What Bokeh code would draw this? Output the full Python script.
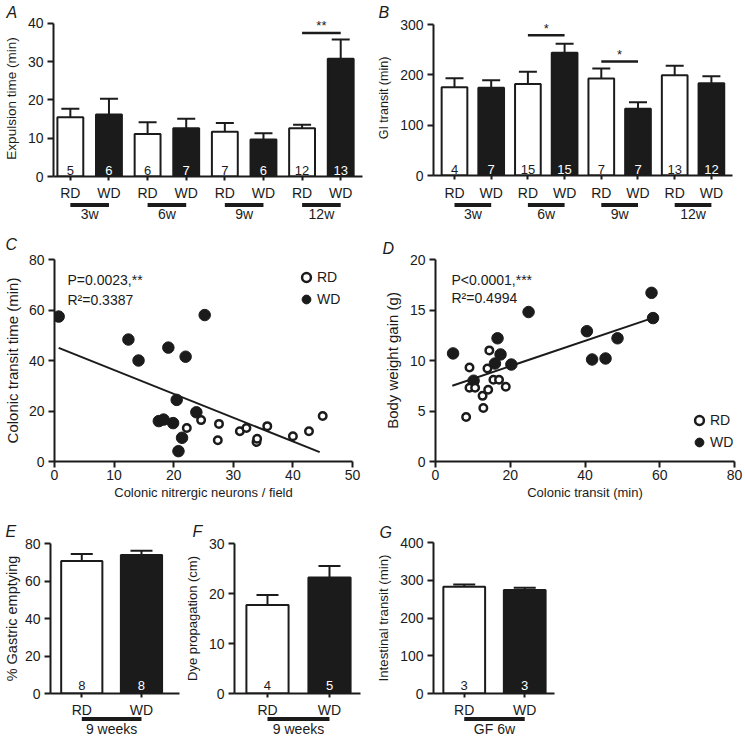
from bokeh.plotting import figure
from bokeh.layouts import row, column
from bokeh.models import (ColumnDataSource, FixedTicker, Whisker, TeeHead, Label,
                          Legend, LegendItem, Range1d)
from bokeh.core.properties import value
from bokeh.embed import file_html
from bokeh.resources import INLINE

FONT = "Liberation Sans"
INK = "#1b1b1b"

# ---------------- data ----------------
# A: expulsion time (min), mean and SEM
a_diet = ["RD", "WD", "RD", "WD", "RD", "WD", "RD", "WD"]
a_mean = [15.5, 16.2, 11.1, 12.6, 11.7, 9.7, 12.6, 30.8]
a_sem = [2.2, 4.1, 3.1, 2.5, 2.3, 1.6, 0.9, 5.0]
a_n = [5, 6, 6, 7, 7, 6, 12, 13]
a_groups = ["3w", "6w", "9w", "12w"]
a_yticks = [0, 10, 20, 30, 40]
a_sig_from = [6]
a_sig_to = [7]
a_sig_y = [37.5]
a_sig_text = ["**"]

# B: GI transit (min)
b_diet = ["RD", "WD", "RD", "WD", "RD", "WD", "RD", "WD"]
b_mean = [175.5, 174.2, 182.0, 244.0, 192.7, 132.5, 199.3, 183.4]
b_sem = [17.9, 15.2, 24.0, 17.6, 19.9, 13.2, 18.6, 14.0]
b_n = [4, 7, 15, 15, 7, 7, 13, 12]
b_groups = ["3w", "6w", "9w", "12w"]
b_yticks = [0, 100, 200, 300]
b_sig_from = [2, 4]
b_sig_to = [3, 5]
b_sig_y = [278.8, 226.5]
b_sig_text = ["*", "*"]

# C: colonic transit time vs nitrergic neurons
c_rd_x = [22.2, 24.6, 27.6, 27.4, 31.1, 32.2, 33.9, 34.0, 35.7, 40.0, 42.7, 45.0]
c_rd_y = [13.3, 16.4, 14.9, 8.4, 12.0, 13.3, 7.7, 9.0, 14.0, 10.0, 12.0, 18.0]
c_wd_x = [0.7, 12.4, 14.1, 19.1, 22.0, 25.2, 20.5, 23.8, 17.5, 18.3, 19.9, 21.4, 20.8]
c_wd_y = [57.4, 48.3, 40.0, 45.1, 41.5, 58.0, 24.4, 19.5, 16.0, 16.6, 15.2, 9.4, 4.1]
c_fit_x = [0.7, 44.5]
c_fit_y = [45.0, 3.7]
c_stats = ["P=0.0023,**", "R\u00b2=0.3387"]
c_xticks = [0, 10, 20, 30, 40, 50]
c_yticks = [0, 20, 40, 60, 80]

# D: body weight gain vs colonic transit
d_rd_x = [14.4, 9.1, 13.9, 9.1, 10.6, 12.6, 14.1, 15.5, 17.0, 18.8, 12.8, 8.2]
d_rd_y = [11.0, 9.3, 9.2, 7.3, 7.3, 6.5, 7.1, 8.1, 8.1, 7.4, 5.3, 4.4]
d_wd_x = [4.7, 24.9, 16.6, 17.4, 15.9, 20.3, 10.2, 40.5, 41.9, 45.5, 48.7, 57.8, 58.2]
d_wd_y = [10.7, 14.8, 12.2, 10.6, 9.7, 9.6, 8.0, 12.9, 10.1, 10.2, 12.2, 16.7, 14.2]
d_fit_x = [4.5, 58.0]
d_fit_y = [7.5, 14.2]
d_stats = ["P<0.0001,***", "R\u00b2=0.4994"]
d_xticks = [0, 20, 40, 60, 80]
d_yticks = [0, 5, 10, 15, 20]

# E, F, G: two-bar panels
e_diet = ["RD", "WD"]
e_mean = [70.7, 73.9]
e_sem = [3.7, 2.2]
e_n = [8, 8]
e_groups = ["9 weeks"]
e_yticks = [0, 20, 40, 60, 80]

f_diet = ["RD", "WD"]
f_mean = [17.7, 23.2]
f_sem = [2.0, 2.3]
f_n = [4, 5]
f_groups = ["9 weeks"]
f_yticks = [0, 10, 20, 30]

g_diet = ["RD", "WD"]
g_mean = [282.5, 274.0]
g_sem = [6.1, 6.0]
g_n = [3, 3]
g_groups = ["GF 6w"]
g_yticks = [0, 100, 200, 300, 400]


# ---------------- helpers ----------------
def new_fig(width, height, xr, yr, bl, br, bt, bb, axes=True):
    kw = {}
    if not axes:
        kw = dict(x_axis_location=None, y_axis_location=None)
    p = figure(width=width, height=height, x_range=xr, y_range=yr,
               min_border_left=bl, min_border_right=br,
               min_border_top=bt, min_border_bottom=bb,
               output_backend="svg", toolbar_location=None, tools="", **kw)
    p.outline_line_color = None
    p.grid.visible = False
    return p


def style_axes(p, xtick_out=6, xstandoff=2, ylab_standoff=6, ylab_size="13px"):
    for ax in (p.xaxis[0], p.yaxis[0]):
        ax.axis_line_width = 2
        ax.axis_line_color = INK
        ax.major_tick_line_width = 2
        ax.major_tick_line_color = INK
        ax.major_tick_in = 0
        ax.major_tick_out = 6
        ax.minor_tick_line_color = None
        ax.major_label_text_font = FONT
        ax.major_label_text_font_size = "14px"
        ax.major_label_text_color = INK
        ax.major_label_standoff = 4
        ax.axis_label_text_font = FONT
        ax.axis_label_text_font_size = "13px"
        ax.axis_label_text_font_style = "normal"
        ax.axis_label_text_color = INK
        ax.axis_label_standoff = 2
    p.yaxis[0].axis_label_standoff = ylab_standoff
    p.yaxis[0].axis_label_text_font_size = ylab_size
    p.xaxis[0].major_tick_out = xtick_out
    p.xaxis[0].major_label_standoff = xstandoff


def letter(p, txt, offset, standoff):
    p.title.text = txt
    p.title.align = "left"
    p.title.offset = offset
    p.title.standoff = standoff
    p.title.text_font = FONT
    p.title.text_font_size = "16px"
    p.title.text_font_style = "italic"
    p.title.text_color = INK


def bar_panel(diet, mean, sem, n, yticks, yend, ylabel, xr, width, height,
              bl, br, bt, bb, bar_w, cap, let, let_off, let_so, n_off,
              sig=None, sig_off=-4, ylab_size="13px", ylab_standoff=6):
    x = list(range(len(diet)))
    src = ColumnDataSource(dict(
        x=x, mean=mean, upper=[m + s for m, s in zip(mean, sem)],
        fill=["white" if d == "RD" else INK for d in diet]))
    p = new_fig(width, height, xr, Range1d(0, yend), bl, br, bt, bb)
    p.add_layout(Whisker(source=src, base="x", lower="mean", upper="upper",
                         dimension="height", line_color=INK, line_width=2,
                         upper_head=TeeHead(size=cap, line_color=INK, line_width=2),
                         lower_head=None))
    p.vbar(x="x", top="mean", bottom=0, width=bar_w, source=src,
           fill_color="fill", line_color=INK, line_width=2)
    # group sizes: dark digits in open bars, white digits in filled bars
    for d_name, col in (("RD", INK), ("WD", "white")):
        xs = [i for i, d in zip(x, diet) if d == d_name]
        ns = [str(v) for v, d in zip(n, diet) if d == d_name]
        p.text(x=xs, y=0, text=ns, text_color=col, text_align="center",
               text_baseline="middle", y_offset=n_off, text_font=value(FONT),
               text_font_size="13px")
    if sig is not None:
        s_from, s_to, s_y, s_txt = sig
        p.segment(x0=s_from, y0=s_y, x1=s_to, y1=s_y, line_width=2.5, line_color=INK)
        p.text(x=[(a + b) / 2 for a, b in zip(s_from, s_to)], y=s_y, text=s_txt,
               text_align="center", text_baseline="middle", y_offset=sig_off,
               text_font=value(FONT), text_font_size="13px", text_color=INK)
    style_axes(p, xtick_out=4, ylab_standoff=ylab_standoff, ylab_size=ylab_size)
    p.xaxis.ticker = FixedTicker(ticks=x)
    # category names are written in the strip below the axis
    p.xaxis.major_label_text_color = None
    p.yaxis.ticker = FixedTicker(ticks=yticks)
    p.yaxis.bounds = (yticks[0], yticks[-1])
    p.yaxis.axis_label = ylabel
    letter(p, let, let_off, let_so)
    return p


def label_strip(width, height, xr, bl, br, diet, groups, diet_y, line_y, group_y):
    s = new_fig(width, height, xr, Range1d(0, height), bl, br, 0, 0, axes=False)
    x = list(range(len(diet)))
    s.text(x=x, y=diet_y, text=diet, text_align="center", text_baseline="middle",
           text_font=value(FONT), text_font_size="14px", text_color=INK)
    starts = [2 * i for i in range(len(groups))]
    ends = [2 * i + 1 for i in range(len(groups))]
    s.segment(x0=starts, y0=line_y, x1=ends, y1=line_y, line_width=4, line_color=INK)
    s.text(x=[(a + b) / 2 for a, b in zip(starts, ends)], y=group_y, text=groups,
           text_align="center", text_baseline="middle", text_font=value(FONT),
           text_font_size="14px", text_color=INK)
    return s


def scatter_panel(rd_x, rd_y, wd_x, wd_y, fit_x, fit_y, stats, xticks, yticks,
                  xlabel, ylabel, width, height, bl, br, bt, bb, leg_loc, stat_pos,
                  let, let_off, let_so, ylab_size="13px", ylab_standoff=6):
    p = new_fig(width, height, Range1d(xticks[0], xticks[-1]),
                Range1d(yticks[0], yticks[-1]), bl, br, bt, bb)
    p.line(fit_x, fit_y, line_width=2, line_color=INK)
    r_wd = p.scatter(wd_x, wd_y, marker="circle", size=11.5, fill_color=INK,
                     line_color=INK, line_width=1)
    r_rd = p.scatter(rd_x, rd_y, marker="circle", size=7.5, fill_color="white",
                     line_color=INK, line_width=2.5)
    leg = Legend(items=[LegendItem(label="RD", renderers=[r_rd]),
                        LegendItem(label="WD", renderers=[r_wd])],
                 location=leg_loc, border_line_color=None, background_fill_alpha=0,
                 padding=0, margin=0, spacing=-2, glyph_width=22, glyph_height=22,
                 label_standoff=0, label_height=20, label_text_font=FONT,
                 label_text_font_size="14px", label_text_color=INK)
    p.add_layout(leg)
    sx, sy0, dy = stat_pos
    for k, t in enumerate(stats):
        p.add_layout(Label(x=sx, y=sy0 - k * dy, x_units="screen", y_units="screen",
                           text=t, text_font=FONT, text_font_size="14px",
                           text_color=INK, text_baseline="middle"))
    style_axes(p, xtick_out=6, xstandoff=2, ylab_standoff=ylab_standoff,
               ylab_size=ylab_size)
    p.xaxis.ticker = FixedTicker(ticks=xticks)
    p.yaxis.ticker = FixedTicker(ticks=yticks)
    p.xaxis.axis_label = xlabel
    p.yaxis.axis_label = ylabel
    letter(p, let, let_off, let_so)
    return p


# ---------------- row 1: A, B ----------------
xrA = Range1d(-0.436, 7.564)
pA = bar_panel(a_diet, a_mean, a_sem, a_n, a_yticks, 40.78, "Expulsion time (min)", xrA,
               372, 184, 50, 10, 20, 8, 0.67, 18, "A", -47, 0, -6,
               sig=(a_sig_from, a_sig_to, a_sig_y, a_sig_text), sig_off=-7.5,
               ylab_size="13.5px", ylab_standoff=6)
sA = label_strip(372, 42, xrA, 50, 10, a_diet, a_groups, 34, 21.5, 12.5)

xrB = Range1d(-0.572, 7.575)
pB = bar_panel(b_diet, b_mean, b_sem, b_n, b_yticks, 308, "GI transit (min)", xrB,
               370, 184, 61, 10, 20, 9, 0.70, 18, "B", -55, 0, -6,
               sig=(b_sig_from, b_sig_to, b_sig_y, b_sig_text), sig_off=-7,
               ylab_size="12.5px", ylab_standoff=6)
sB = label_strip(370, 42, xrB, 61, 10, b_diet, b_groups, 34, 21.5, 12.5)

# ---------------- row 2: C, D ----------------
pC = scatter_panel(c_rd_x, c_rd_y, c_wd_x, c_wd_y, c_fit_x, c_fit_y, c_stats,
                   c_xticks, c_yticks, "Colonic nitrergic neurons / field",
                   "Colonic transit time (min)", 380, 291, 49, 28, 33, 56,
                   (241, 151), (13, 182, 20), "C", -49, 13,
                   ylab_size="15px", ylab_standoff=5)
pD = scatter_panel(d_rd_x, d_rd_y, d_wd_x, d_wd_y, d_fit_x, d_fit_y, d_stats,
                   d_xticks, d_yticks, "Colonic transit (min)",
                   "Body weight gain (g)", 363, 291, 54, 9, 33, 56,
                   (253, 8), (16, 182, 18), "D", -53, 5,
                   ylab_size="15px", ylab_standoff=6)

# ---------------- row 3: E, F, G ----------------
xrE = Range1d(-0.524, 1.637)
pE = bar_panel(e_diet, e_mean, e_sem, e_n, e_yticks, 80, "% Gastric emptying", xrE,
               181, 184, 45, 2, 25, 8, 0.69, 22, "E", -45, 7, -8.5,
               ylab_size="14.5px", ylab_standoff=2)
sE = label_strip(181, 36, xrE, 45, 2, e_diet, e_groups, 27.5, 18.5, 8.5)

xrF = Range1d(-0.532, 1.5)
pF = bar_panel(f_diet, f_mean, f_sem, f_n, f_yticks, 30, "Dye propagation (cm)", xrF,
               192, 184, 51, 13, 25, 8, 0.68, 22, "F", -42, 7, -8.5,
               ylab_size="13px", ylab_standoff=6)
sF = label_strip(192, 36, xrF, 51, 13, f_diet, f_groups, 27.5, 18.5, 8.5)

xrG = Range1d(-0.508, 1.492)
pG = bar_panel(g_diet, g_mean, g_sem, g_n, g_yticks, 400, "Intestinal transit (min)", xrG,
               191, 184, 59, 10, 25, 8, 0.69, 22, "G", -54, 3, -8.5,
               ylab_size="13.3px", ylab_standoff=6)
sG = label_strip(191, 36, xrG, 59, 10, g_diet, g_groups, 27.5, 18.5, 8.5)

layout = column(
    row(column(pA, sA, spacing=0), column(pB, sB, spacing=0), spacing=0),
    row(pC, pD, spacing=0),
    row(column(pE, sE, spacing=0), column(pF, sF, spacing=0),
        column(pG, sG, spacing=0), spacing=0),
    spacing=0)

open("out.html", "w").write(file_html(layout, INLINE))
